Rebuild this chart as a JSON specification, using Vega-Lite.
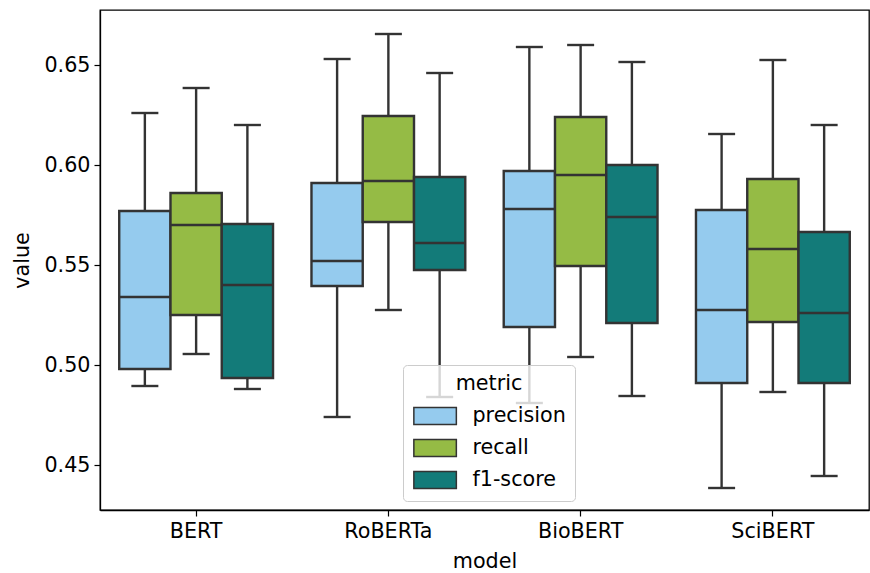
{
  "$schema": "https://vega.github.io/schema/vega-lite/v6.json",
  "width": 769,
  "height": 500,
  "autosize": {"type": "none"},
  "padding": {"left": 100, "top": 10, "right": 1, "bottom": 63},
  "config": {
    "font": "DejaVu Sans",
    "view": {"stroke": "#000000", "strokeWidth": 1.3},
    "axis": {"grid": false, "domainColor": "#000000", "tickColor": "#000000", "labelColor": "#000000", "titleColor": "#000000", "labelFontSize": 20.7, "titleFontSize": 20.7, "titleFontWeight": "normal", "tickSize": 6, "tickWidth": 1.2, "domainWidth": 1.3}
  },
  "data": {"values": [
    {"model": "BERT", "metric": "precision", "min": 0.4895, "q1": 0.498, "median": 0.534, "q3": 0.577, "max": 0.626},
    {"model": "BERT", "metric": "recall", "min": 0.5055, "q1": 0.525, "median": 0.570, "q3": 0.586, "max": 0.6385},
    {"model": "BERT", "metric": "f1-score", "min": 0.488, "q1": 0.4935, "median": 0.540, "q3": 0.5705, "max": 0.620},
    {"model": "RoBERTa", "metric": "precision", "min": 0.474, "q1": 0.5395, "median": 0.552, "q3": 0.591, "max": 0.653},
    {"model": "RoBERTa", "metric": "recall", "min": 0.5275, "q1": 0.5715, "median": 0.592, "q3": 0.6245, "max": 0.6655},
    {"model": "RoBERTa", "metric": "f1-score", "min": 0.484, "q1": 0.5475, "median": 0.561, "q3": 0.594, "max": 0.646},
    {"model": "BioBERT", "metric": "precision", "min": 0.481, "q1": 0.519, "median": 0.578, "q3": 0.597, "max": 0.659},
    {"model": "BioBERT", "metric": "recall", "min": 0.504, "q1": 0.5495, "median": 0.595, "q3": 0.624, "max": 0.660},
    {"model": "BioBERT", "metric": "f1-score", "min": 0.4845, "q1": 0.521, "median": 0.574, "q3": 0.600, "max": 0.6515},
    {"model": "SciBERT", "metric": "precision", "min": 0.4385, "q1": 0.491, "median": 0.5275, "q3": 0.5775, "max": 0.6155},
    {"model": "SciBERT", "metric": "recall", "min": 0.4865, "q1": 0.5215, "median": 0.558, "q3": 0.593, "max": 0.6525},
    {"model": "SciBERT", "metric": "f1-score", "min": 0.4445, "q1": 0.491, "median": 0.526, "q3": 0.5665, "max": 0.620}
  ]},
  "encoding": {
    "x": {"field": "model", "type": "nominal", "sort": ["BERT", "RoBERTa", "BioBERT", "SciBERT"],
          "scale": {"paddingInner": 0.2, "paddingOuter": 0.1},
          "axis": {"labelAngle": 0, "title": "model", "labelPadding": 5, "titlePadding": 11}},
    "xOffset": {"field": "metric", "type": "nominal", "sort": ["precision", "recall", "f1-score"], "scale": {"paddingInner": 0, "paddingOuter": 0}}
  },
  "layer": [
    {
      "mark": {"type": "rule", "color": "#333333", "strokeWidth": 2.4},
      "encoding": {
        "y": {"field": "min", "type": "quantitative", "scale": {"domain": [0.4275, 0.6775], "nice": false, "zero": false},
              "axis": {"title": "value", "values": [0.45, 0.5, 0.55, 0.6, 0.65], "format": ".2f", "labelPadding": 4, "titlePadding": 11}},
        "y2": {"field": "max"}
      }
    },
    {
      "mark": {"type": "tick", "color": "#333333", "thickness": 2.4, "size": 27, "opacity": 1},
      "encoding": {"y": {"field": "min", "type": "quantitative"}}
    },
    {
      "mark": {"type": "tick", "color": "#333333", "thickness": 2.4, "size": 27, "opacity": 1},
      "encoding": {"y": {"field": "max", "type": "quantitative"}}
    },
    {
      "mark": {"type": "bar", "stroke": "#333333", "strokeWidth": 2.4, "opacity": 1},
      "encoding": {
        "y": {"field": "q1", "type": "quantitative"},
        "y2": {"field": "q3"},
        "fill": {"field": "metric", "type": "nominal", "sort": ["precision", "recall", "f1-score"],
                 "scale": {"domain": ["precision", "recall", "f1-score"], "range": ["#95CBEE", "#95BB45", "#137B79"]},
                 "legend": {"orient": "none", "legendX": 303, "legendY": 355, "title": "metric",
                            "titleFontSize": 20.7, "titleFontWeight": "normal", "titleColor": "#000000",
                            "titleAnchor": "middle", "titleAlign": "center", "titlePadding": 11,
                            "labelFontSize": 20.7, "labelColor": "#000000", "labelOffset": 27,
                            "symbolType": "M-2.5,-1H2.5V1H-2.5Z", "symbolSize": 289, "symbolStrokeColor": "#333333", "symbolStrokeWidth": 1.5, "symbolOpacity": 1,
                            "symbolOffset": 12.75,
                            "rowPadding": 8, "padding": 9, "fillColor": "rgba(255,255,255,0.8)", "strokeColor": "#cccccc", "cornerRadius": 4}}
      }
    },
    {
      "mark": {"type": "tick", "color": "#333333", "thickness": 2.4, "size": 51, "opacity": 1},
      "encoding": {"y": {"field": "median", "type": "quantitative"}}
    }
  ]
}
